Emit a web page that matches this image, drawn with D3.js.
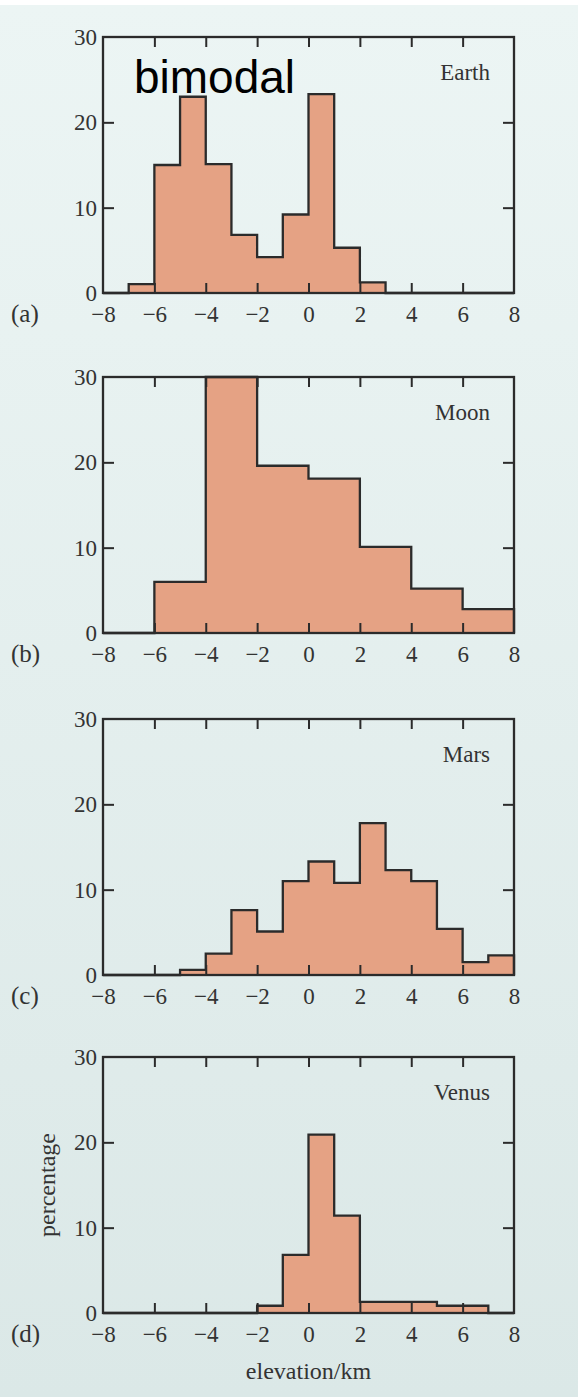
<!DOCTYPE html>
<html>
<head>
<meta charset="utf-8">
<script src="https://cdn.jsdelivr.net/npm/d3@7"></script>
<style>
  html, body { margin: 0; padding: 0; }
  body { width: 578px; height: 1397px; overflow: hidden; }
  svg text { font-family: "Liberation Serif", "DejaVu Serif", serif; fill: #333; }
</style>
</head>
<body>
<div id="chart"></div>
<script>
// bin edges (km) and percentage per bin
const edges1 = [-8, -7, -6, -5, -4, -3, -2, -1, 0, 1, 2, 3, 4, 5, 6, 7, 8];
const edges2 = [-8, -6, -4, -2, 0, 2, 4, 6, 8];

const earthPct = [0, 1.05, 15, 23, 15.1, 6.8, 4.2, 9.2, 23.3, 5.3, 1.25, 0, 0, 0, 0, 0];
const moonPct  = [0, 6, 30, 19.6, 18.1, 10.1, 5.2, 2.8];
const marsPct  = [0, 0, 0, 0.6, 2.5, 7.6, 5.1, 11, 13.3, 10.8, 17.8, 12.3, 11, 5.4, 1.5, 2.3];
const venusPct = [0, 0, 0, 0, 0, 0, 0.85, 6.8, 20.9, 11.4, 1.3, 1.3, 1.3, 0.85, 0.85, 0];

const planetNames = ['Earth', 'Moon', 'Mars', 'Venus'];
const panelTags = ['(a)', '(b)', '(c)', '(d)'];
const xTicks = [-8, -6, -4, -2, 0, 2, 4, 6, 8];
const yTicks = [0, 10, 20, 30];

const series = [
  { edges: edges1, values: earthPct },
  { edges: edges2, values: moonPct },
  { edges: edges1, values: marsPct },
  { edges: edges1, values: venusPct }
];

// layout
const W = 578, H = 1397;
const left = 103, right = 514, plotH = 256;
const panelTops = [37, 377, 719, 1057];
const fillColor = '#e5a284';
const ink = '#2b2b2b';

const svg = d3.select('#chart').append('svg')
  .attr('width', W)
  .attr('height', H);

const grad = svg.append('defs').append('linearGradient')
  .attr('id', 'bg').attr('x1', 0).attr('y1', 0).attr('x2', 0).attr('y2', 1);
grad.append('stop').attr('offset', '0%').attr('stop-color', '#ecf5f4');
grad.append('stop').attr('offset', '100%').attr('stop-color', '#dbe8e7');

svg.append('rect').attr('width', W).attr('height', H).attr('fill', '#ffffff');
svg.append('rect').attr('y', 5).attr('width', W).attr('height', H - 5).attr('fill', 'url(#bg)');

const x = d3.scaleLinear().domain([-8, 8]).range([left, right]);

series.forEach((s, i) => {
  const top = panelTops[i];
  const bottom = top + plotH;
  const y = d3.scaleLinear().domain([0, 30]).range([bottom, top]);
  const g = svg.append('g');

  // step outline of the histogram
  const pts = [[s.edges[0], 0]];
  s.values.forEach((v, j) => {
    pts.push([s.edges[j], v]);
    pts.push([s.edges[j + 1], v]);
  });
  pts.push([s.edges[s.edges.length - 1], 0]);

  const line = d3.line().x(d => x(d[0])).y(d => y(d[1]));

  g.append('path')
    .attr('d', line(pts) + 'Z')
    .attr('fill', fillColor)
    .attr('stroke', 'none');

  g.append('path')
    .attr('d', line(pts))
    .attr('fill', 'none')
    .attr('stroke', ink)
    .attr('stroke-width', 2.3)
    .attr('stroke-linejoin', 'miter');

  // inward ticks on all four sides
  const inner = xTicks.slice(1, -1);
  const tickStyle = sel => {
    sel.select('.domain').remove();
    sel.selectAll('line').attr('stroke', ink).attr('stroke-width', 2);
  };

  const xb = g.append('g').attr('transform', `translate(0,${bottom})`)
    .call(d3.axisBottom(x).tickValues(xTicks).tickSize(-10).tickPadding(13));
  tickStyle(xb);
  xb.selectAll('.tick').filter(d => d === -8 || d === 8).select('line').remove();
  xb.selectAll('text').attr('font-size', 23).attr('fill', '#333');

  const xt = g.append('g').attr('transform', `translate(0,${top})`)
    .call(d3.axisTop(x).tickValues(inner).tickSize(-10).tickFormat(''));
  tickStyle(xt);

  const yl = g.append('g').attr('transform', `translate(${left},0)`)
    .call(d3.axisLeft(y).tickValues(yTicks).tickSize(-11).tickPadding(6));
  tickStyle(yl);
  yl.selectAll('.tick').filter(d => d === 0 || d === 30).select('line').remove();
  yl.selectAll('text').attr('font-size', 23).attr('fill', '#333').attr('dy', '0.33em');

  const yr = g.append('g').attr('transform', `translate(${right},0)`)
    .call(d3.axisRight(y).tickValues([10, 20]).tickSize(-11).tickFormat(''));
  tickStyle(yr);

  // frame
  g.append('rect')
    .attr('x', left).attr('y', top)
    .attr('width', right - left).attr('height', plotH)
    .attr('fill', 'none')
    .attr('stroke', ink)
    .attr('stroke-width', 2.3);

  g.append('text')
    .attr('x', 490).attr('y', top + 43)
    .attr('text-anchor', 'end')
    .attr('font-size', 23)
    .text(planetNames[i]);

  g.append('text')
    .attr('x', 11).attr('y', bottom + 29)
    .attr('font-size', 25)
    .text(panelTags[i]);
});

// axis titles on the last panel
const lastTop = panelTops[3];
svg.append('text')
  .attr('x', (left + right) / 2).attr('y', lastTop + plotH + 66)
  .attr('text-anchor', 'middle')
  .attr('font-size', 24)
  .text('elevation/km');

svg.append('text')
  .attr('transform', `translate(55,${lastTop + plotH / 2}) rotate(-90)`)
  .attr('text-anchor', 'middle')
  .attr('font-size', 24)
  .text('percentage');

// annotation on the Earth panel
svg.append('text')
  .attr('x', 134).attr('y', 93)
  .style('font-family', '"Liberation Sans", Arial, sans-serif')
  .style('fill', '#000')
  .attr('font-size', 46)
  .text('bimodal');
</script>
</body>
</html>
